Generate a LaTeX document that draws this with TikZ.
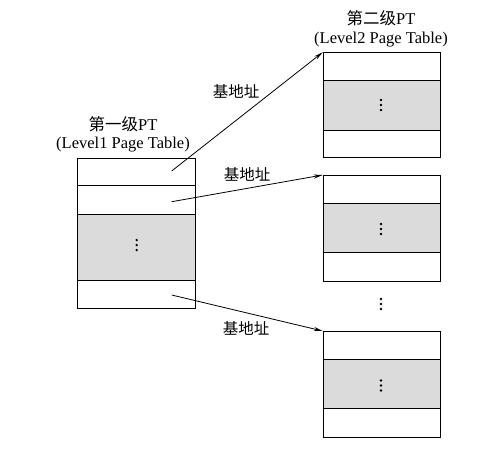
\documentclass[tikz,border=0pt]{standalone}
\usepackage{fontspec}
\setmainfont{Liberation Serif}
\newfontfamily\cjk{Noto Sans CJK SC}
\usetikzlibrary{arrows.meta}
\begin{document}
\begin{tikzpicture}[x=1pt,y=-1pt,
  tbl/.style={draw,line width=0.9pt,inner sep=0pt,anchor=north west},
  rowline/.style={line width=0.9pt},
  shade/.style={fill=black!14},
  ttl/.style={align=center,font=\fontsize{16.5}{18.5}\selectfont,inner sep=0pt},
  lbl/.style={font=\cjk\fontsize{15.5}{17}\selectfont,inner sep=0pt},
  dotmark/.style={circle,fill=black,inner sep=0pt,minimum size=2.6pt},
  ptr/.style={line width=0.8pt,-{Stealth[length=9pt,width=4pt]}}]
\useasboundingbox (0,0) rectangle (486,456);
\newcommand\mydots[2]{%
  \node[dotmark] at (#1,#2-5) {};
  \node[dotmark] at (#1,#2) {};
  \node[dotmark] at (#1,#2+5) {};}
% Level 1 table
\fill[shade] (77.3,214) rectangle (195,280);
\node[tbl,minimum width=117.7pt,minimum height=150.3pt] (t1) at (77.3,157.7) {};
\draw[rowline] (77.3,185.7) -- (195,185.7);
\draw[rowline] (77.3,214) -- (195,214);
\draw[rowline] (77.3,280) -- (195,280);
\mydots{136.7}{245}
\node[ttl] (h1) at (123,134.5) {{\cjk 第一级}PT\\(Level1 Page Table)};
% Level 2 table A
\fill[shade] (322.7,80.7) rectangle (439.5,130);
\node[tbl,minimum width=116.8pt,minimum height=105pt] (ta) at (322.7,52.3) {};
\draw[rowline] (322.7,80.7) -- (439.5,80.7);
\draw[rowline] (322.7,130) -- (439.5,130);
\mydots{381}{105}
\node[ttl] (h2) at (381,29) {{\cjk 第二级}PT\\(Level2 Page Table)};
% Level 2 table B
\fill[shade] (322.7,203.3) rectangle (439.5,252.7);
\node[tbl,minimum width=116.8pt,minimum height=105.7pt] (tb) at (322.7,175) {};
\draw[rowline] (322.7,203.3) -- (439.5,203.3);
\draw[rowline] (322.7,252.7) -- (439.5,252.7);
\mydots{381}{229}
% vertical dots between
\mydots{381}{304}
% Level 2 table C
\fill[shade] (322.7,359) rectangle (439.5,408);
\node[tbl,minimum width=116.8pt,minimum height=105.7pt] (tc) at (322.7,331) {};
\draw[rowline] (322.7,359) -- (439.5,359);
\draw[rowline] (322.7,408) -- (439.5,408);
\mydots{381}{385.5}
% pointer start points
\coordinate (s1) at (171.7,171);
\coordinate (s2) at (171.7,201.7);
\coordinate (s3) at (171.7,295);
\draw[ptr] (s1) -- (ta.north west);
\draw[ptr] (s2) -- (tb.north west);
\draw[ptr] (s3) -- (tc.north west);
\node[lbl] (l1) at (236,91) {基地址};
\node[lbl] (l2) at (247,174) {基地址};
\node[lbl] (l3) at (246,328) {基地址};
\end{tikzpicture}
\end{document}
